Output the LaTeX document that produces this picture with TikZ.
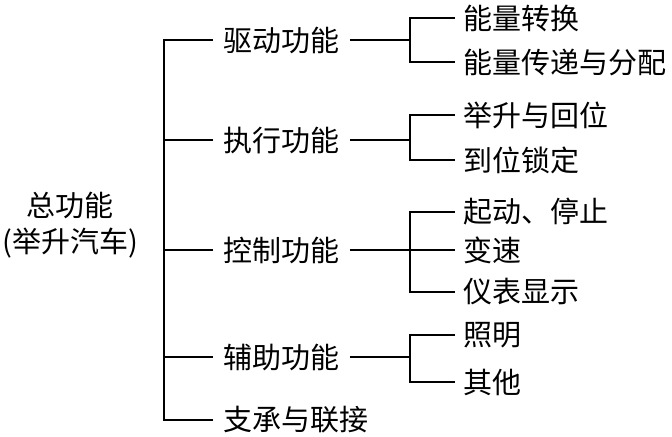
\documentclass[tikz,border=0pt]{standalone}
\usepackage{fontspec}
\setmainfont{Noto Sans CJK SC}
\begin{document}
\begin{tikzpicture}[x=0.5pt,y=-0.5pt]
\tikzset{
  funcnode/.style={anchor=west,inner xsep=5pt,inner ysep=1pt,font=\fontsize{14.5}{18}\selectfont},
  leafnode/.style={anchor=west,inner xsep=4pt,inner ysep=1pt,font=\fontsize{14.5}{18}\selectfont},
  rootnode/.style={align=center,inner sep=1pt,font=\fontsize{14.5}{18}\selectfont},
  branch/.style={line width=0.6pt}
}
\useasboundingbox (0,0) rectangle (672,437);
\node[rootnode] (n_root) at (70,225) {总功能\\(举升汽车)};
\coordinate (j_root) at (164,227);
\node[funcnode] (n_drive) at (213,40) {驱动功能};
\node[funcnode] (n_exec) at (213,140) {执行功能};
\node[funcnode] (n_ctrl) at (213,250) {控制功能};
\node[funcnode] (n_aux) at (213,357) {辅助功能};
\node[funcnode] (n_supp) at (213,420) {支承与联接};
\coordinate (j_drive) at (410,40);
\coordinate (j_exec) at (410,140);
\coordinate (j_ctrl) at (410,250);
\coordinate (j_aux) at (410,357);
\node[leafnode] (n_conv) at (455,18) {能量转换};
\node[leafnode] (n_dist) at (455,62) {能量传递与分配};
\node[leafnode] (n_lift) at (455,115) {举升与回位};
\node[leafnode] (n_lock) at (455,160) {到位锁定};
\node[leafnode] (n_start) at (455,212) {起动、停止};
\node[leafnode] (n_speed) at (455,250) {变速};
\node[leafnode] (n_meter) at (455,292) {仪表显示};
\node[leafnode] (n_light) at (455,335) {照明};
\node[leafnode] (n_other) at (455,382) {其他};
\draw[branch] (n_drive.west) -| (j_root);
\draw[branch] (n_exec.west) -| (j_root);
\draw[branch] (n_ctrl.west) -| (j_root);
\draw[branch] (n_aux.west) -| (j_root);
\draw[branch] (n_supp.west) -| (j_root);
\draw[branch] (n_drive.east) -- (j_drive);
\draw[branch] (n_exec.east) -- (j_exec);
\draw[branch] (n_ctrl.east) -- (j_ctrl);
\draw[branch] (n_aux.east) -- (j_aux);
\draw[branch] (n_conv.west) -| (j_drive);
\draw[branch] (n_dist.west) -| (j_drive);
\draw[branch] (n_lift.west) -| (j_exec);
\draw[branch] (n_lock.west) -| (j_exec);
\draw[branch] (n_start.west) -| (j_ctrl);
\draw[branch] (n_speed.west) -- (j_ctrl);
\draw[branch] (n_meter.west) -| (j_ctrl);
\draw[branch] (n_light.west) -| (j_aux);
\draw[branch] (n_other.west) -| (j_aux);
\end{tikzpicture}
\end{document}
